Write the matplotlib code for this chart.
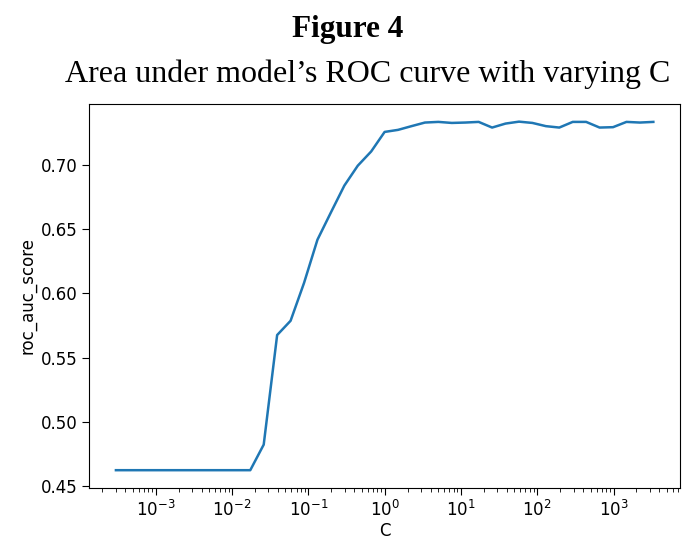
import numpy as np
import matplotlib
matplotlib.use("Agg")
import matplotlib.pyplot as plt

# grid of C values: C = 1.5 ** k
C_EXP = list(range(-20, 21))
C = [1.5 ** k for k in C_EXP]

# roc_auc_score
AUC = [
    0.4624, 0.4624, 0.4624, 0.4624, 0.4624, 0.4624, 0.4624, 0.4624, 0.4624, 0.4624,
    0.4624, 0.4823, 0.5676, 0.5787, 0.6081, 0.6418, 0.6630, 0.6839, 0.6994, 0.7105,
    0.7257, 0.7273, 0.7302, 0.7330, 0.7335, 0.7327, 0.7330, 0.7335, 0.7291, 0.7322,
    0.7337, 0.7327, 0.7302, 0.7291, 0.7335, 0.7335, 0.7291, 0.7294, 0.7335, 0.7330,
    0.7335,
]

fig = plt.figure(figsize=(6.85, 5.4), dpi=100)
ax = fig.add_axes([0.13, 0.097, 0.863, 0.710])

ax.plot(C, AUC, color="#1f77b4", lw=1.8)
ax.set_xscale("log")
ax.set_xlabel("C", fontsize=12, labelpad=2)
ax.set_ylabel("roc_auc_score", fontsize=12, labelpad=3)
ax.tick_params(labelsize=12, length=5)
ax.tick_params(which="minor", length=2.6)

fig.text(0.507, 0.946, "Figure 4", ha="center", va="center",
         family="Liberation Serif", fontweight="bold", fontsize=22.5)
fig.text(0.537, 0.862, "Area under model\u2019s ROC curve with varying C",
         ha="center", va="center", family="Liberation Serif", fontsize=23)

fig.savefig("out.png", dpi=100)
